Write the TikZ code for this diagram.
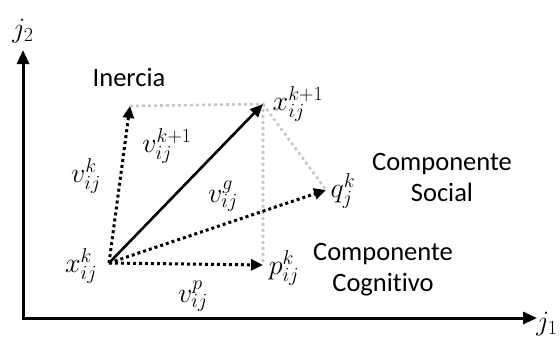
\RequirePackage{fix-cm}
\documentclass[tikz,border=0pt]{standalone}
\usepackage{fontspec}
\setmainfont[Ligatures=NoCommon]{Carlito}
\DeclareMathSizes{28}{28}{20}{15}
\usetikzlibrary{arrows.meta}
\begin{document}
\begin{tikzpicture}[x=1pt,y=-1pt,
  axis/.style={line width=3pt,{Triangle[length=14pt,width=12pt]}-{Triangle[length=14pt,width=12pt]}},
  vec/.style={line width=3pt,dash pattern=on 3pt off 3pt,-{Triangle[length=12pt,width=11pt]}},
  solidvec/.style={line width=2.6pt,-{Triangle[length=13pt,width=11pt]}},
  guide/.style={line width=2.6pt,color=black!22,dash pattern=on 3pt off 3pt},
  mlabel/.style={inner sep=0pt,font=\fontsize{28}{34}\selectfont},
  tlabel/.style={inner sep=0pt,align=center,font=\fontsize{26.5}{31}\selectfont}]
\useasboundingbox (0,0) rectangle (560,338);
% axes
\coordinate (ytop) at (23,50);
\coordinate (corner) at (23,318);
\coordinate (xend) at (537,318);
\draw[axis] (ytop) -- (corner) -- (xend);
\node[mlabel] (j2) at (23,31) {$j_2$};
\node[mlabel] (j1) at (547,324) {$j_1$};
% points
\coordinate (O) at (109,263);
\coordinate (A) at (130,106);
\coordinate (X) at (263,104);
\coordinate (P) at (263,265);
\coordinate (Q) at (326,190);
% guide lines
\draw[guide] (A) -- (X) -- (P);
\draw[guide] (X) -- (Q);
% vectors
\draw[vec] (O) -- (A);
\draw[vec] (O) -- (P);
\draw[vec] (O) -- (Q);
\draw[solidvec] (O) -- (X);
% labels
\node[tlabel] (iner) at (129,77) {Inercia};
\node[tlabel] (social) at (442,177) {Componente\\Social};
\node[tlabel] (cogn) at (383,270) {Componente\\Cognitivo};
\node[mlabel] (lxk1) at (298,104) {$x_{ij}^{k+1}$};
\node[mlabel] (lvk1) at (167,146) {$v_{ij}^{k+1}$};
\node[mlabel] (lvk) at (86,176) {$v_{ij}^{k}$};
\node[mlabel] (lvg) at (223,196) {$v_{ij}^{g}$};
\node[mlabel] (lxk) at (81,266) {$x_{ij}^{k}$};
\node[mlabel] (lpk) at (284,268) {$p_{ij}^{k}$};
\node[mlabel] (lvp) at (193,296) {$v_{ij}^{p}$};
\node[mlabel] (lqk) at (343,191) {$q_{j}^{k}$};
\end{tikzpicture}
\end{document}
